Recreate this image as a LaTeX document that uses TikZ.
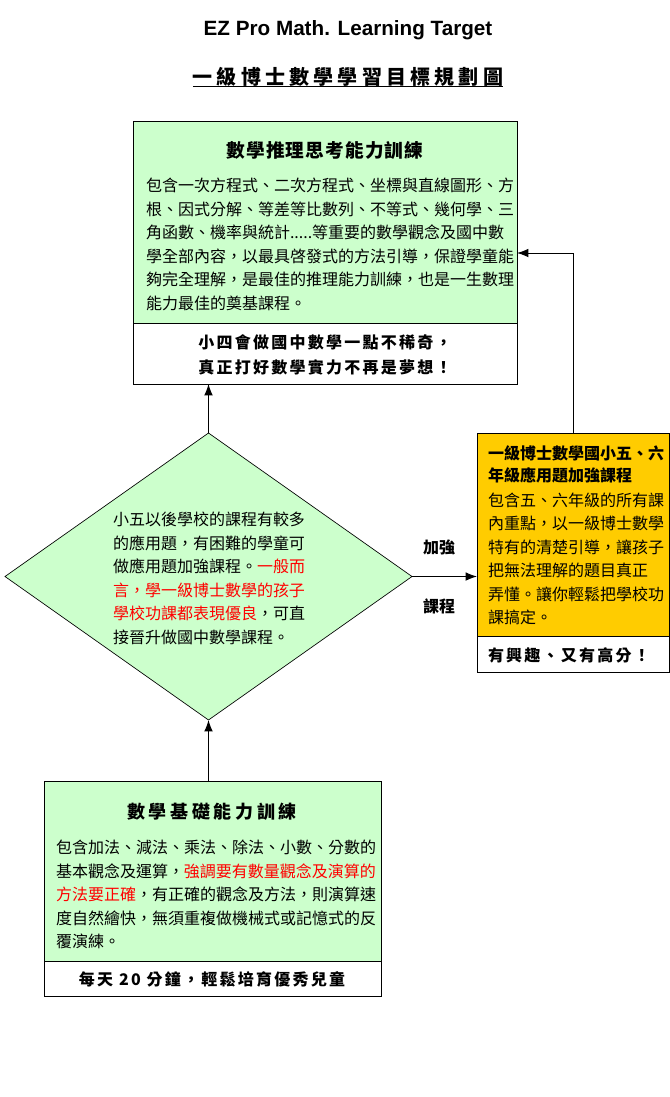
\documentclass[tikz,border=0pt]{standalone}
\usepackage{fontspec}
\setmainfont{Liberation Sans}
\newfontfamily\cjk{Noto Sans CJK TC}
\newfontfamily\cjkfoot[LetterSpace=14]{Noto Sans CJK TC}
\newfontfamily\cjksub[LetterSpace=21]{Noto Sans CJK TC}
\newfontfamily\cjkhead[LetterSpace=6]{Noto Sans CJK TC}
\newfontfamily\cjkheadwide[LetterSpace=20]{Noto Sans CJK TC}
\usetikzlibrary{shapes.geometric, arrows.meta}
\definecolor{mintgreen}{RGB}{204,255,204}
\definecolor{gold}{RGB}{255,204,0}

\begin{document}
\begin{tikzpicture}[x=0.75pt, y=-0.75pt, draw=black, inner sep=0, outer sep=0,
    >={Latex[length=8.5pt, width=6.5pt]},
    panel/.style={rectangle, draw=black, line width=0.75pt, anchor=north west},
    body/.style={anchor=west, align=left, font=\cjk\fontsize{12pt}{17.6pt}\selectfont},
    foot/.style={align=center, font=\cjkfoot\bfseries\fontsize{12pt}{18.75pt}\selectfont}]
  \useasboundingbox (0,0) rectangle (670,1097);

  % titles
  \node[font=\bfseries\fontsize{15.5pt}{15.5pt}\selectfont] (title) at (348,30) {EZ Pro Math. Learning Target};
  \node[font=\cjksub\bfseries\fontsize{15pt}{15pt}\selectfont] (subtitle) at (348,77) {一級博士數學學習目標規劃圖};
  \draw[line width=0.75pt] (subtitle.south west) -- (subtitle.south east);

  % top box
  \node[panel, fill=mintgreen, minimum width=288pt, minimum height=151.5pt] (reason) at (133,121) {};
  \node[panel, fill=white, minimum width=288pt, minimum height=45.75pt] (reasonfoot) at (reason.south west) {};
  \node[font=\cjkhead\bfseries\fontsize{14pt}{14pt}\selectfont] (reasontitle) at (325,150) {數學推理思考能力訓練};
  \node[body] (reasontext) at (146,244.5) {包含一次方程式、二次方程式、坐標與直線圖形、方\\
    根、因式分解、等差等比數列、不等式、幾何學、三\\
    角函數、機率與統計.....等重要的數學觀念及國中數\\
    學全部內容，以最具啓發式的方法引導，保證學童能\\
    夠完全理解，是最佳的推理能力訓練，也是一生數理\\
    能力最佳的奠基課程。};
  \node[foot] (reasonslogan) at (325,354.5) {小四會做國中數學一點不稀奇，\\真正打好數學實力不再是夢想！};

  % decision diamond
  \node[diamond, draw=black, fill=mintgreen, line width=0.5pt,
    minimum width=305.25pt, minimum height=215.25pt] (gate) at (208.5,576.5) {};
  \node[body] (gatetext) at (113,578.5) {小五以後學校的課程有較多\\
    的應用題，有困難的學童可\\
    做應用題加強課程。\textcolor{red}{一般而}\\
    \textcolor{red}{言，學一級博士數學的孩子}\\
    \textcolor{red}{學校功課都表現優良}，可直\\
    接晉升做國中數學課程。};

  % word problem box
  \node[panel, fill=gold, minimum width=144pt, minimum height=152.25pt] (drill) at (477,433) {};
  \node[panel, fill=white, minimum width=144pt, minimum height=27pt] (drillfoot) at (drill.south west) {};
  \node[body, font=\cjk\bfseries\fontsize{12pt}{16.5pt}\selectfont] (drilltitle) at (488,464) {一級博士數學國小五、六\\年級應用題加強課程};
  \node[body] (drilltext) at (488,559) {包含五、六年級的所有課\\
    內重點，以一級博士數學\\
    特有的清楚引導，讓孩子\\
    把無法理解的題目真正\\
    弄懂。讓你輕鬆把學校功\\
    課搞定。};
  \node[foot, anchor=west] (drillslogan) at (488,655) {有興趣、又有高分！};

  % bottom box
  \node[panel, fill=mintgreen, minimum width=252.75pt, minimum height=135pt] (basic) at (44,781) {};
  \node[panel, fill=white, minimum width=252.75pt, minimum height=26.25pt] (basicfoot) at (basic.south west) {};
  \node[font=\cjkheadwide\bfseries\fontsize{13.5pt}{13.5pt}\selectfont] (basictitle) at (212,812) {數學基礎能力訓練};
  \node[body] (basictext) at (56,894.5) {包含加法、減法、乘法、除法、小數、分數的\\
    基本觀念及運算，\textcolor{red}{強調要有數量觀念及演算的}\\
    \textcolor{red}{方法要正確}，有正確的觀念及方法，則演算速\\
    度自然繪快，無須重複做機械式或記憶式的反\\
    覆演練。};
  \node[foot] (basicslogan) at (212,979) {每天 20 分鐘，輕鬆培育優秀兒童};

  % connectors
  \draw[->, line width=0.75pt] (basic.north -| gate.south) -- (gate.south);
  \draw[->, line width=0.75pt] (gate.north) -- (gate.north |- reasonfoot.south);
  \draw[->, line width=0.75pt] (gate.east) -- (gate.east -| drill.west)
    node[midway, xshift=-4pt, yshift=21.75pt, font=\cjk\bfseries\fontsize{12pt}{12pt}\selectfont] (boostlabel) {加強}
    node[midway, xshift=-4pt, yshift=-22.5pt, font=\cjk\bfseries\fontsize{12pt}{12pt}\selectfont] (courselabel) {課程};
  \draw[->, line width=0.75pt] (drill.north) |- ([yshift=-23.25pt]reason.east);
\end{tikzpicture}
\end{document}
